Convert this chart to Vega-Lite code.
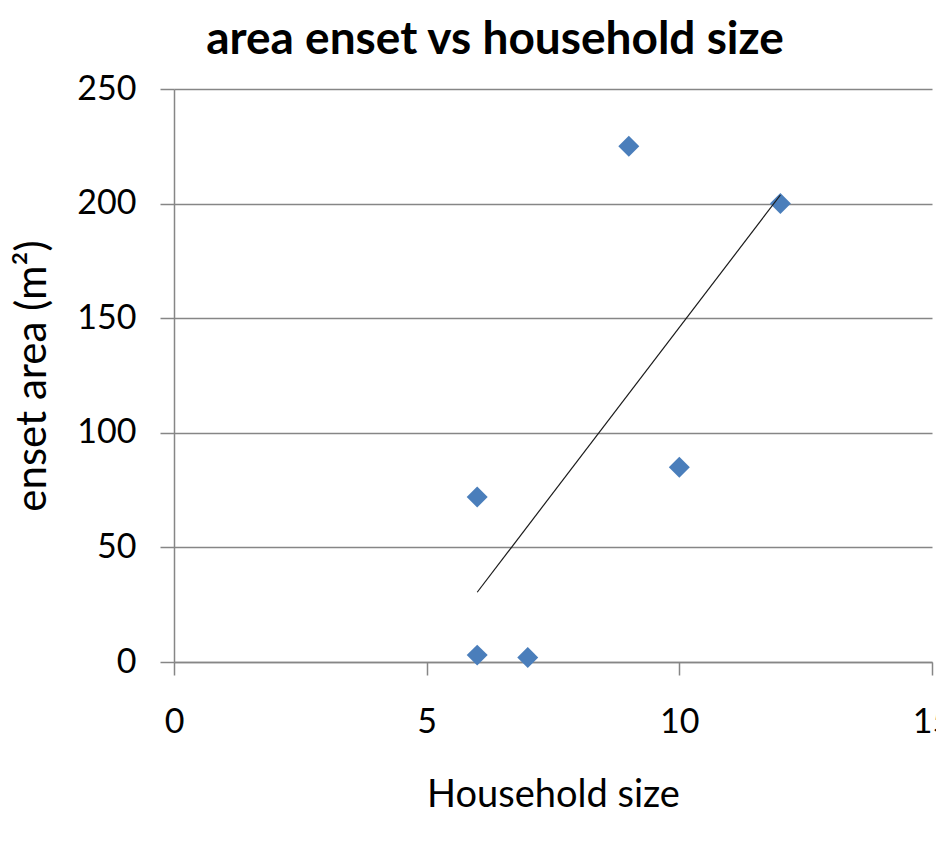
{
  "$schema": "https://vega.github.io/schema/vega-lite/v6.json",
  "autosize": "none",
  "padding": {"left": 174, "top": 89, "right": 4, "bottom": 192},
  "width": 758,
  "height": 573,
  "title": {
    "text": "area enset vs household size",
    "font": "Lato",
    "fontSize": 46,
    "fontWeight": "bold",
    "color": "#000000",
    "anchor": "middle",
    "dx": -58,
    "offset": 8
  },
  "data": {
    "values": [
      {"household": 6, "area": 3},
      {"household": 6, "area": 72},
      {"household": 7, "area": 2},
      {"household": 9, "area": 225},
      {"household": 10, "area": 85},
      {"household": 12, "area": 200}
    ]
  },
  "config": {
    "view": {"stroke": null},
    "axis": {
      "labelFont": "Lato",
      "titleFont": "Lato",
      "labelFontSize": 34,
      "labelColor": "#000000",
      "titleColor": "#000000",
      "titleFontWeight": "normal",
      "labelFlush": false,
      "domainColor": "#868686",
      "domainWidth": 1.5,
      "tickColor": "#868686",
      "tickWidth": 1.5,
      "gridColor": "#868686",
      "gridWidth": 1.5
    }
  },
  "layer": [
    {
      "mark": {"type": "point", "shape": "diamond", "filled": true, "size": 440, "color": "#4A7EBB", "opacity": 1},
      "encoding": {
        "x": {
          "field": "household",
          "type": "quantitative",
          "title": "Household size",
          "scale": {"domain": [0, 15], "nice": false},
          "axis": {"values": [0, 5, 10, 15], "grid": false, "tickSize": 13, "labelPadding": 30, "titleFontSize": 38, "titlePadding": 37}
        },
        "y": {
          "field": "area",
          "type": "quantitative",
          "title": "enset area (m²)",
          "scale": {"domain": [0, 250], "nice": false},
          "axis": {"values": [0, 50, 100, 150, 200, 250], "grid": true, "tickSize": 14, "labelPadding": 24, "titleFontSize": 42, "titlePadding": 22}
        }
      }
    },
    {
      "transform": [{"regression": "area", "on": "household"}],
      "mark": {"type": "line", "color": "#1a1a1a", "strokeWidth": 1.2},
      "encoding": {
        "x": {"field": "household", "type": "quantitative"},
        "y": {"field": "area", "type": "quantitative"}
      }
    }
  ]
}
